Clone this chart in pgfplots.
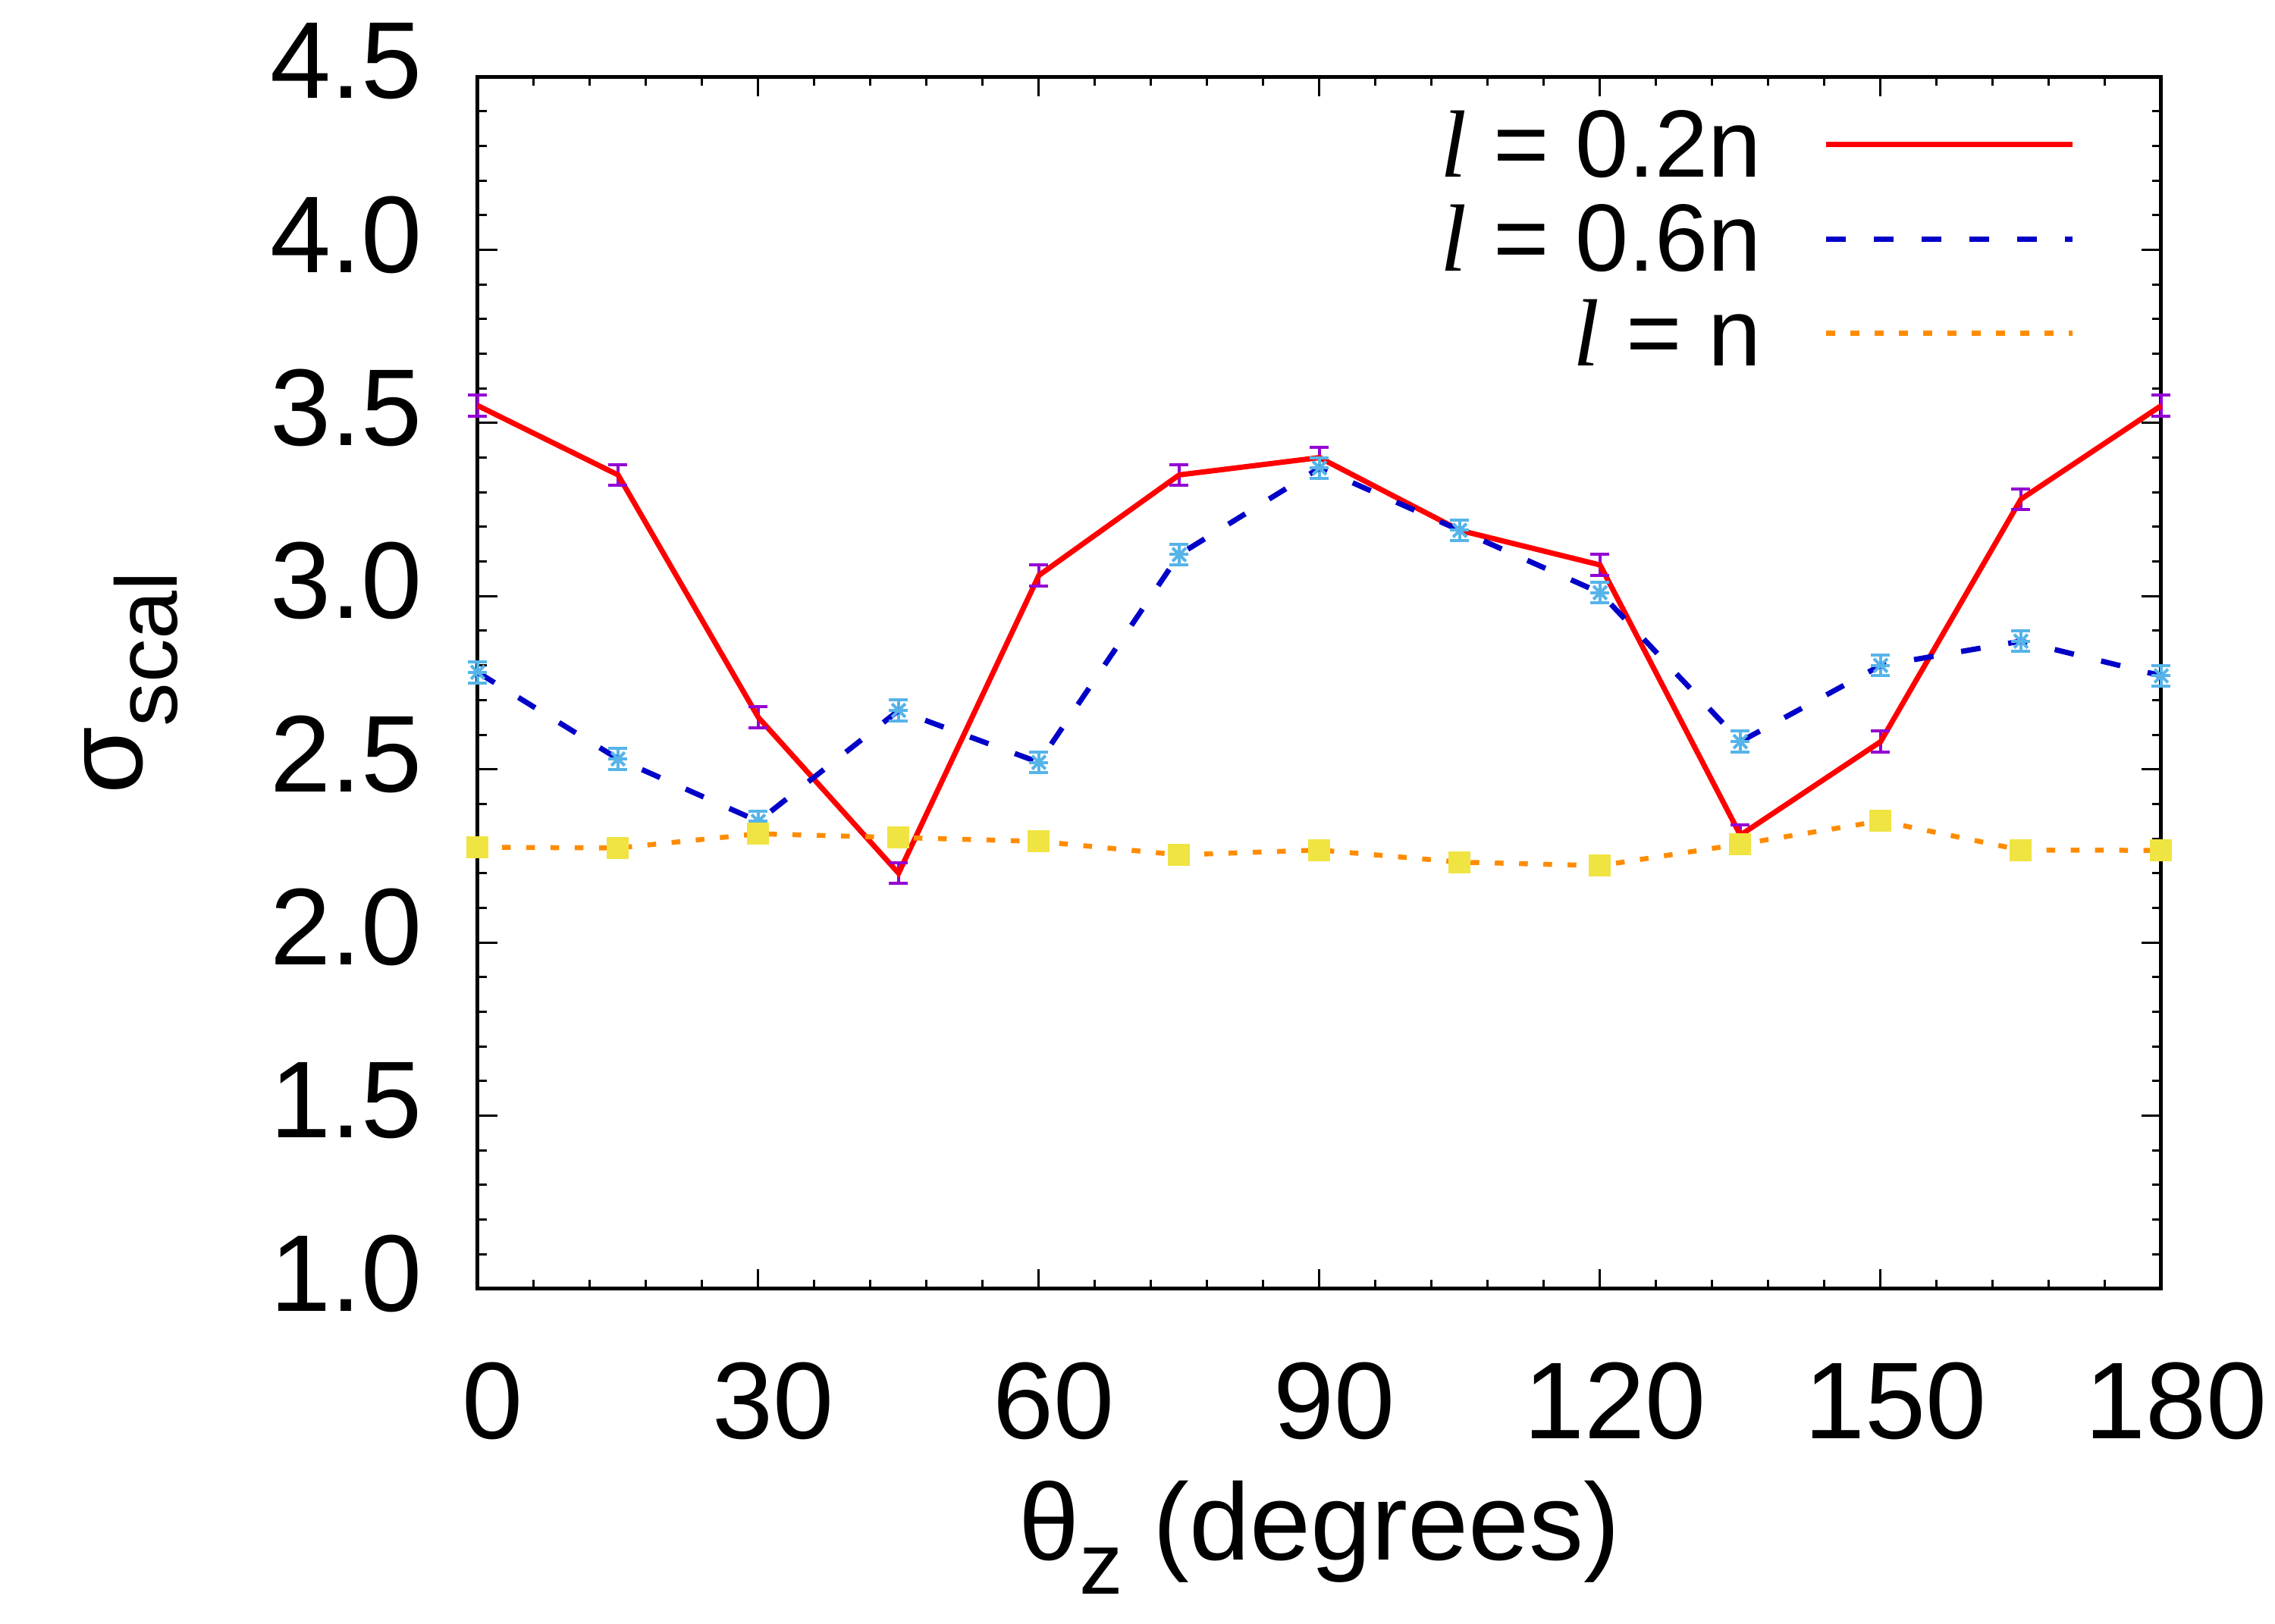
\documentclass[border=0pt]{standalone}
\usepackage{fontspec}
\setmainfont{Liberation Sans}
\newfontfamily\serifit{Liberation Serif}
\usepackage{pgfplots}
\usepackage{pgfplotstable}
\pgfplotsset{compat=1.18}
\definecolor{cred}{RGB}{255,0,0}
\definecolor{cblue}{RGB}{0,0,200}
\definecolor{corange}{RGB}{255,140,0}
\definecolor{cpurple}{RGB}{148,0,211}
\definecolor{csky}{RGB}{86,180,233}
\definecolor{cyellow}{RGB}{240,228,66}

% value, error, and the two bar ends (value +/- error)
\pgfplotstableread{
x   red   rlo   rhi   blue  blo   bhi   orange err
0   3.55  3.52  3.58  2.78  2.75  2.81  2.275  0.03
15  3.35  3.32  3.38  2.53  2.50  2.56  2.273  0.03
30  2.65  2.62  2.68  2.35  2.32  2.38  2.314  0.03
45  2.20  2.17  2.23  2.67  2.64  2.70  2.303  0.03
60  3.06  3.03  3.09  2.52  2.49  2.55  2.292  0.03
75  3.35  3.32  3.38  3.12  3.09  3.15  2.253  0.03
90  3.40  3.37  3.43  3.37  3.34  3.40  2.267  0.03
105 3.19  3.16  3.22  3.19  3.16  3.22  2.232  0.03
120 3.09  3.06  3.12  3.01  2.98  3.04  2.222  0.03
135 2.31  2.28  2.34  2.58  2.55  2.61  2.284  0.03
150 2.58  2.55  2.61  2.80  2.77  2.83  2.351  0.03
165 3.28  3.25  3.31  2.87  2.84  2.90  2.267  0.03
180 3.55  3.52  3.58  2.77  2.74  2.80  2.266  0.03
}\data

\begin{document}
\begin{tikzpicture}
\begin{axis}[
  name=main,
  scale only axis,
  width=222pt, height=159.9pt,
  xmin=0, xmax=180, ymin=1.0, ymax=4.5,
  xtick={0,30,...,180},
  ytick={1.0,1.5,...,4.5},
  minor x tick num=4,
  minor y tick num=4,
  tick align=inside,
  major tick length=2.6pt,
  minor tick length=1.2pt,
  tick style={line width=0.3pt, black},
  axis line style={line width=0.5pt},
  clip=false,
  /pgf/number format/assume math mode=true,
  tick label style={font=\fontsize{14.4}{17}\selectfont},
  xticklabel style={anchor=base, inner sep=0pt, yshift=-19.7pt, xshift=2pt},
  yticklabel style={anchor=east, inner sep=0pt, xshift=-7.1pt, yshift=2pt,
     /pgf/number format/.cd, fixed, fixed zerofill, precision=1},
  every axis x label/.style={at={(axis description cs:0.5,-0.2233)}, anchor=base,
     font=\fontsize{14.4}{17}\selectfont},
  every axis y label/.style={at={(axis description cs:-0.1991,0.5)}, rotate=90, anchor=base,
     font=\fontsize{14.4}{17}\selectfont},
  xlabel={θ\raisebox{-4.5pt}{\fontsize{11.5}{12}\selectfont z} (degrees)},
  ylabel={σ\raisebox{-4.6pt}{\fontsize{11.5}{12}\selectfont scal}},
  legend plot pos=right,
  legend cell align=right,
  legend image code/.code={\draw[#1] (0pt,0pt) -- (32.5pt,0pt);},
  legend style={at={(1,1)}, anchor=north east, xshift=-11.3pt, yshift=-2.2pt,
     draw=none, fill=none, inner sep=0pt, outer sep=0pt,
     row sep=-1.05pt, column sep=8.2pt,
     nodes={inner sep=0pt, text height=11pt, text depth=2.5pt,
            font=\fontsize{12.6}{14}\selectfont}},
  capstyle/.style={forget plot, only marks, mark=-, mark size=1.25pt,
     mark options={line width=0.4pt}},
]
% l = 0.2n : error bars, caps, then line
\addplot[forget plot, draw=none, mark=none,
  error bars/.cd, y dir=both, y explicit,
  error bar style={draw=cpurple, line width=0.4pt},
  error mark options={draw=cpurple, mark size=0pt, line width=0.4pt}]
  table[x=x, y=red, y error=err]{\data};
\addplot[capstyle, cpurple] table[x=x, y=rlo]{\data};
\addplot[capstyle, cpurple] table[x=x, y=rhi]{\data};
\addplot[cred, line width=0.7pt, mark=none] table[x=x, y=red]{\data};
\addlegendentry{{\serifit\itshape l} = 0.2n}

% l = 0.6n : markers, error bars, caps, then dashed line
\addplot[forget plot, only marks, mark=x, mark size=1.25pt, csky,
  mark options={line width=0.4pt},
  error bars/.cd, y dir=both, y explicit,
  error bar style={draw=csky, line width=0.4pt},
  error mark options={draw=csky, mark size=0pt, line width=0.4pt}]
  table[x=x, y=blue, y error=err]{\data};
\addplot[capstyle, csky] table[x=x, y=blue]{\data};
\addplot[capstyle, csky] table[x=x, y=blo]{\data};
\addplot[capstyle, csky] table[x=x, y=bhi]{\data};
\addplot[cblue, line width=0.7pt, mark=none, dash pattern=on 2.6pt off 3.7pt]
  table[x=x, y=blue]{\data};
\addlegendentry{{\serifit\itshape l} = 0.6n}

% l = n : squares then dotted line
\addplot[forget plot, only marks, mark=square*, mark size=1.4pt,
  mark options={fill=cyellow, draw=cyellow, line width=0pt}]
  table[x=x, y=orange]{\data};
\addplot[corange, line width=0.65pt, mark=none, dash pattern=on 1.15pt off 2.05pt]
  table[x=x, y=orange]{\data};
\addlegendentry{{\serifit\itshape l} = n}
\end{axis}
\pgfresetboundingbox
\path ([shift={(-63pt,-44.2pt)}]main.south west) rectangle ([shift={(15pt,10.1pt)}]main.north east);
\end{tikzpicture}
\end{document}
